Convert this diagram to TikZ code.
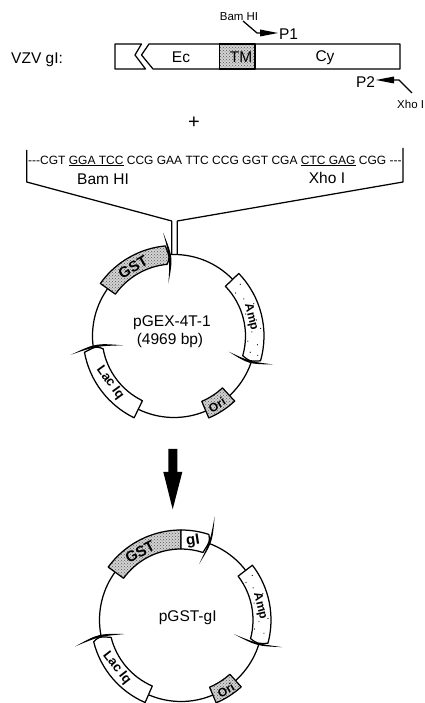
\documentclass[tikz,border=0pt]{standalone}
\usepackage{fontspec}
\setmainfont{Liberation Sans}[Ligatures=NoCommon]
\usetikzlibrary{patterns,calc}
\newcommand{\fs}[1]{\fontsize{#1}{#1}\selectfont}
\tikzset{
  ln/.style={line width=1.25pt,line join=round,black},
  lbl/.style={inner sep=0pt,font=\fs{15.5}},
  shade/.style={preaction={fill=gray!35},pattern=crosshatch dots,pattern color=black!65},
  white band/.style={ln,fill=white},
  shade band/.style={ln,shade},
  seglbl/.style={inner sep=0pt,font=\fs{12}\bfseries},
}
% \plasband{center}{a1}{a2}{rin}{rout}{style}
\newcommand{\plasband}[6]{\draw[#6] ($(#1)+(#2:#4)$) -- ($(#1)+(#2:#5)$) arc[start angle=#2,end angle=#3,radius=#5] -- ($(#1)+(#3:#4)$) arc[start angle=#3,end angle=#2,radius=#4] -- cycle;}
% \plasarrow{center}{a1}{a2}{rin}{rout}{style}{wing angle}{wing rin}{wing rout}{tip angle}{tip r}
\newcommand{\plasarrow}[6]{\def\pc{#1}\def\pa{#2}\def\pb{#3}\def\pri{#4}\def\pro{#5}\def\ps{#6}\plasarrowc}
\newcommand{\plasarrowc}[5]{%
  \pgfmathsetmacro{\ca}{#1+1.33*(#4-(#1))}%
  \pgfmathsetmacro{\cb}{#1+0.75*(#4-(#1))}%
  \pgfmathsetmacro{\cr}{(#2+#3)/2}%
  \draw[\ps] ($(\pc)+(\pa:\pri)$) -- ($(\pc)+(\pa:\pro)$) arc[start angle=\pa,end angle=\pb,radius=\pro] .. controls ($(\pc)+(\cb:\cr)$) .. ($(\pc)+(\pb:\pri)$) arc[start angle=\pb,end angle=\pa,radius=\pri] -- cycle;
  \fill ($(\pc)+(#1:#2)$) .. controls ($(\pc)+(\ca:\cr)$) .. ($(\pc)+(#1:#3)$) .. controls ($(\pc)+(\cb:\cr)$) .. cycle;
}
\begin{document}
\begin{tikzpicture}[x=1pt,y=1pt]
\useasboundingbox (0,0) rectangle (424,703);
% gene bar (y = 703 - image y)
\node[lbl,anchor=west] (vzv) at (11,643) {VZV gI:};
\draw[ln] (141.5,659) -- (115,659) -- (115,634) -- (145.5,634) -- (135,648) -- cycle;
\draw[ln] (149,659) -- (400,659) -- (400,634) -- (153,634) -- (141.5,648) -- cycle;
\path[ln,draw,shade] (219.5,634) rectangle (255,659);
\node[lbl] (ec) at (181,645.5) {Ec};
\node[lbl] (tm) at (241,645.5) {TM};
\node[lbl] (cy) at (325,645.5) {Cy};
% primers
\node[inner sep=0pt,font=\fs{11.5}] (bam1) at (239,686) {Bam HI};
\node[lbl] (p1) at (288.5,669) {P1};
\coordinate (p1start) at (243,682);
\draw[ln] (p1start) -- (257,670) -- (262,670);
\fill (260,673.5) -- (278,670) -- (260,666.5) -- cycle;
\node[lbl] (p2) at (365.5,620.5) {P2};
\coordinate (p2end) at (412,610);
\draw[ln] (p2end) -- (399,623) -- (392,623);
\fill (394,626.5) -- (376,623) -- (394,619.5) -- cycle;
\node[inner sep=0pt,font=\fs{11.5},anchor=west] (xho1) at (397,599) {Xho I};
\node[inner sep=0pt,font=\fs{20}] (plus) at (194,580) {+};
% polylinker
\node[inner sep=0pt,font=\fs{12},anchor=west] (seq) at (28,542) {{-}{-}{-}CGT \underline{GGA TCC} CCG GAA TTC CCG GGT CGA \underline{CTC GAG} CGG {-}{-}{-}};
\node[lbl] (bam2) at (103,524) {Bam HI};
\node[lbl] (xho2) at (327,525) {Xho I};
\coordinate (vL) at (171.7,448);
\coordinate (vR) at (177.3,448);
\draw[ln] (26.7,553) -- (26.7,521) -- (171.7,482) -- (vL);
\draw[ln] (403,555) -- (403,521) -- (177.3,482) -- (vR);
% plasmid 1
\coordinate (A) at (174,367);
\draw[ln] (A) circle[radius=81.5];
\plasarrow{A}{144.5}{95.5}{72}{90.5}{shade band}{96}{53}{104}{92}{81.5}
\plasarrow{A}{44}{-16}{71.5}{90}{white band}{-16}{57}{103}{-19.5}{81}
\plasband{A}{-67}{-47}{71}{89}{shade band}
\plasarrow{A}{244}{190.3}{72}{91}{white band}{190.3}{52}{105}{186.5}{82}
\foreach \a/\r in {35/75,38/84,28/79,22/86,17/75,11/84,5/87,3/78,-4/74,-6/84,-12/78,-13/86}
  \fill ($(A)+(\a:\r)$) circle[radius=.6pt];
\node[lbl] (n1) at (172,380.5) {pGEX-4T-1};
\node[lbl] (n2) at (170,363) {(4969 bp)};
\node[seglbl,font=\fs{15}\bfseries,rotate=30] (gst1) at (133,436) {GST};
\node[seglbl,rotate=-76] (amp1) at (251,386) {Amp};
\node[seglbl,font=\fs{13}\bfseries,rotate=-54] (lac1) at (110,320) {Lac Iq};
\node[seglbl,rotate=32] (ori1) at (217,298) {Ori};
% big arrow
\fill (168.3,254) rectangle (177.3,231) (163.3,231) -- (182.3,231) -- (172.7,193.7) -- cycle;
% plasmid 2
\coordinate (B) at (181,83);
\draw[ln] (B) circle[radius=81.5];
\plasband{B}{144}{90}{71}{90}{shade band}
\plasarrow{B}{90}{72}{71}{90}{white band}{72}{59}{109}{69}{82}
\plasarrow{B}{37.5}{-15}{72}{90}{white band}{-15}{55}{105}{-18}{83}
\plasband{B}{-67}{-48}{73}{90}{shade band}
\plasarrow{B}{246.5}{194}{72}{90}{white band}{194}{58}{109}{190.5}{81.7}
\foreach \a/\r in {30/75,32/84,24/79,18/86,13/75,7/84,1/87,-1/78,-7/74,-9/84}
  \fill ($(B)+(\a:\r)$) circle[radius=.6pt];
\node[lbl] (n3) at (187.7,85) {pGST-gI};
\node[seglbl,font=\fs{15}\bfseries,rotate=28] (gst2) at (140,151.3) {GST};
\node[seglbl,font=\fs{15}\bfseries,rotate=9] (gi) at (193,162) {gI};
\node[seglbl,rotate=-76] (amp2) at (260,97) {Amp};
\node[seglbl,font=\fs{13}\bfseries,rotate=-52] (lac2) at (116.7,34.7) {Lac Iq};
\node[seglbl,rotate=32] (ori2) at (226,12.3) {Ori};
\end{tikzpicture}
\end{document}
